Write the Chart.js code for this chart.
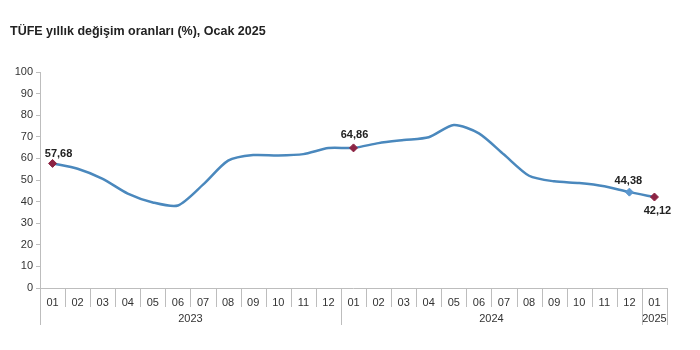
<!DOCTYPE html>
<html>
<head>
<meta charset="utf-8">
<script src="https://cdn.jsdelivr.net/npm/chart.js@4.4.1/dist/chart.umd.min.js"></script>
<style>
  html, body { margin: 0; padding: 0; background: #fff; }
  #wrap { width: 700px; height: 350px; }
</style>
</head>
<body>
<div id="wrap"><canvas id="cpiChart" width="700" height="350"></canvas></div>
<script>
const title = "TÜFE yıllık değişim oranları (%), Ocak 2025";
const months = ["01","02","03","04","05","06","07","08","09","10","11","12",
                "01","02","03","04","05","06","07","08","09","10","11","12",
                "01"];
const years = [
  { label: "2023", from: 0, to: 11 },
  { label: "2024", from: 12, to: 23 },
  { label: "2025", from: 24, to: 24 }
];
const cpi = [57.68, 55.18, 50.51, 43.68, 39.59, 38.21, 47.83, 58.94, 61.53, 61.36, 61.98, 64.77,
             64.86, 67.07, 68.50, 69.80, 75.45, 71.60, 61.78, 51.97, 49.38, 48.58, 47.09, 44.38,
             42.12];
const yTicks = [0, 10, 20, 30, 40, 50, 60, 70, 80, 90, 100];
// points that get a marker and a value label
const marked = [0, 12, 23, 24];
// label offsets (dx, dy) from the marker
const labelShift = { 0: [6, -9], 12: [1, -13], 23: [-1, -11], 24: [3, 14] };

const lineColor = "#4a88bd";
const markRed = "#8c2343";
const markBlue = "#5b97cf";
const axisGrey = "#bdbdbd";
const textColor = "#333";

const fmt = v => v.toFixed(2).replace(".", ",");

const extras = {
  id: "extras",
  afterDraw(chart) {
    const { ctx, chartArea } = chart;
    const x = chart.scales.x;
    const meta = chart.getDatasetMeta(0);
    const bottom = chartArea.bottom;
    const half = (x.getPixelForValue(1) - x.getPixelForValue(0)) / 2;

    ctx.save();
    // title
    ctx.fillStyle = "#222";
    ctx.font = "bold 12.5px Arial, 'Liberation Sans', sans-serif";
    ctx.textBaseline = "middle";
    ctx.textAlign = "left";
    ctx.fillText(title, 10, 32);

    // category separators and year groups
    ctx.strokeStyle = axisGrey;
    ctx.lineWidth = 1;
    const groupEdges = new Set([0]);
    years.forEach(g => groupEdges.add(g.to + 1));
    for (let i = 0; i <= months.length; i++) {
      const px = Math.round(x.getPixelForValue(i) - half) + 0.5;
      ctx.beginPath();
      ctx.moveTo(px, bottom);
      ctx.lineTo(px, groupEdges.has(i) ? bottom + 37 : bottom + 19);
      ctx.stroke();
    }
    ctx.beginPath();
    ctx.moveTo(chartArea.left, bottom + 0.5);
    ctx.lineTo(chartArea.right, bottom + 0.5);
    ctx.stroke();

    ctx.fillStyle = textColor;
    ctx.font = "11px Arial, 'Liberation Sans', sans-serif";
    ctx.textAlign = "center";
    years.forEach(g => {
      const cx = (x.getPixelForValue(g.from) + x.getPixelForValue(g.to)) / 2;
      ctx.fillText(g.label, cx, bottom + 31);
    });

    // value labels
    ctx.font = "bold 11px Arial, 'Liberation Sans', sans-serif";
    ctx.fillStyle = "#222";
    marked.forEach(i => {
      const p = meta.data[i];
      const [dx, dy] = labelShift[i];
      ctx.fillText(fmt(cpi[i]), p.x + dx, p.y + dy);
    });
    ctx.restore();
  }
};

new Chart(document.getElementById("cpiChart"), {
  type: "line",
  data: {
    labels: months,
    datasets: [{
      data: cpi,
      borderColor: lineColor,
      borderWidth: 2.5,
      tension: 0.25,
      pointStyle: "rectRot",
      pointRadius: cpi.map((v, i) => marked.includes(i) ? 4 : 0),
      pointBackgroundColor: cpi.map((v, i) => i === 23 ? markBlue : markRed),
      pointBorderColor: cpi.map((v, i) => i === 23 ? markBlue : markRed),
      pointBorderWidth: 1
    }]
  },
  options: {
    responsive: false,
    animation: false,
    layout: { padding: { top: 72, right: 33, left: 0, bottom: 0 } },
    plugins: {
      legend: { display: false },
      tooltip: { enabled: false },
      title: { display: false }
    },
    scales: {
      x: {
        type: "category",
        offset: true,
        grid: { display: false },
        border: { display: false },
        ticks: {
          color: textColor,
          font: { family: "Arial, 'Liberation Sans', sans-serif", size: 11 },
          padding: 0,
          maxRotation: 0,
          autoSkip: false
        },
        afterFit(scale) { scale.height = 62; }
      },
      y: {
        min: 0,
        max: 100,
        afterBuildTicks(scale) { scale.ticks = yTicks.map(v => ({ value: v })); },
        grid: { drawOnChartArea: false, tickLength: 4, color: axisGrey },
        border: { color: axisGrey },
        ticks: {
          color: textColor,
          font: { family: "Arial, 'Liberation Sans', sans-serif", size: 11 },
          padding: 3
        },
        afterFit(scale) { scale.width = 40; }
      }
    }
  },
  plugins: [extras]
});
</script>
</body>
</html>
